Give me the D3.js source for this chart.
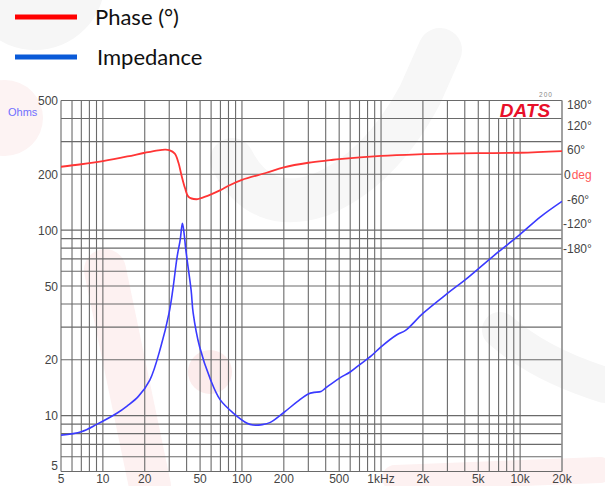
<!DOCTYPE html>
<html><head><meta charset="utf-8">
<script src="https://cdn.jsdelivr.net/npm/d3@7"></script>
<style>body{margin:0;background:#fff}svg{display:block}</style>
</head><body>
<script>
// ---- data ----
const impFreq = [5,7,9.1,12.6,15,18,21.8,26.1,29.9,31.8,34.2,36,37.3,38.3,39.5,43.1,44.6,49.6,59.5,69.6,87,109,120,140,160,200,250,300,330,370,400,500,600,700,850,1000,1300,1500,2000,3000,4000,5000,7000,10000,14000,20000];
const impOhms = [7.85,8.2,9.0,10.3,11.3,12.7,15.6,23.5,35.7,47.5,72,89,109,97,78,47.5,35.7,23.5,15.6,12.2,10.3,9.1,8.9,8.95,9.2,10.4,11.9,13.1,13.35,13.5,14.1,15.9,17.2,18.8,21,23.5,27.3,28.8,35.6,45.6,53.8,61.9,76.5,95,118,143];
const phaseFreq = [5,7,10,15,20,25,28,30,32.9,35,36.7,39,41.2,47,50,60,70,81.5,100,150,200,300,430,500,1000,2000,3000,5000,10000,20000];
const phaseDeg = [19,25,32.8,44,53,59,60.5,59.5,51,28,-1,-33.5,-54,-60,-58,-48,-38,-26,-13,4.4,17.5,28.7,35,37.6,45.5,49.5,51,52,53,57];
const xTickVals = [5,10,20,50,100,200,500,1000,2000,5000,10000,20000];
const xTickLabels = ["5","10","20","50","100","200","500","1kHz","2k","5k","10k","20k"];
const xGrid = [5,6,7,8,9,10,20,30,40,50,60,70,80,90,100,200,300,400,500,600,700,800,900,1000,2000,3000,4000,5000,6000,7000,8000,9000,10000,20000];
const yTickVals = [5,10,20,50,100,200,500];
const yGrid = [5,6,7,8,9,10,20,30,40,50,60,70,80,90,100,200,300,400,500];
const phaseTicks = [180,120,60,0,-60,-120,-180];
const legendNames = ["Phase (°)","Impedance"];

const W=605,H=486;
const L=61,R=562,T=100.5,B=471.5;
const svg=d3.select("body").append("svg").attr("width",W).attr("height",H);
svg.append("rect").attr("width",W).attr("height",H).attr("fill","#fff");

// faint watermark
const wm=svg.append("g");
wm.append("circle").attr("cx",35).attr("cy",-20).attr("r",70).attr("fill","#f6f6f6");
wm.append("circle").attr("cx",5).attr("cy",118).attr("r",38).attr("fill","#fdf3f3");
wm.append("path").attr("d","M105,270 L150,486").attr("stroke","#fdf1f1").attr("stroke-width",42).attr("stroke-linecap","round").attr("fill","none");
wm.append("circle").attr("cx",210).attr("cy",372).attr("r",22).attr("fill","#fcecec");
wm.append("path").attr("d","M232,160 Q260,215 320,195 Q380,170 420,95 L440,50").attr("stroke","#f7f7f7").attr("stroke-width",44).attr("stroke-linecap","round").attr("fill","none");
wm.append("path").attr("d","M500,330 Q540,365 605,385").attr("stroke","#f6f6f6").attr("stroke-width",36).attr("stroke-linecap","round").attr("fill","none");
wm.append("path").attr("d","M395,478 L600,470").attr("stroke","#fdf1f1").attr("stroke-width",26).attr("stroke-linecap","round").attr("fill","none");

const x=d3.scaleLog().domain([5,20000]).range([L,R]);
const y=d3.scaleLog().domain([5,500]).range([B,T]);
const yp=d3.scaleLinear().domain([-180,180]).range([248.6,T]);

// grid
const grid=svg.append("g").attr("stroke","#6a6a6a").attr("stroke-width",1.1);
xGrid.forEach(v=>grid.append("line").attr("x1",x(v)).attr("x2",x(v)).attr("y1",T).attr("y2",B));
yGrid.forEach(v=>grid.append("line").attr("x1",L).attr("x2",R).attr("y1",y(v)).attr("y2",y(v)));
svg.append("line").attr("x1",R).attr("x2",R).attr("y1",T).attr("y2",B).attr("stroke","#999").attr("stroke-width",1.2);

// DATS box
svg.append("rect").attr("x",497).attr("y",T+0.5).attr("width",56).attr("height",17).attr("fill","#fff");
svg.append("text").attr("x",525).attr("y",117).attr("text-anchor","middle").attr("font-family","Liberation Sans, Arial").attr("font-weight","bold").attr("font-style","italic").attr("font-size",19).attr("fill","#e8102a").text("DATS");
svg.append("text").attr("x",546).attr("y",97).attr("text-anchor","middle").attr("font-family","Liberation Sans, Arial").attr("font-size",6.5).attr("fill","#888").attr("letter-spacing",1).text("200");

// curves
svg.append("clipPath").attr("id","cp").append("rect").attr("x",L).attr("y",T).attr("width",R-L).attr("height",B-T);
const line=d3.line().curve(d3.curveCatmullRom.alpha(0.5));
svg.append("path").attr("clip-path","url(#cp)")
  .attr("d",line(phaseFreq.map((f,i)=>[x(f),yp(phaseDeg[i])])))
  .attr("fill","none").attr("stroke","#ff3535").attr("stroke-width",1.8);
svg.append("path").attr("clip-path","url(#cp)")
  .attr("d",line(impFreq.map((f,i)=>[x(f),y(impOhms[i])])))
  .attr("fill","none").attr("stroke","#3a3aff").attr("stroke-width",1.6);

// axes labels
const ax=svg.append("g").attr("font-family","Liberation Sans, Arial").attr("font-size",12).attr("fill","#444");
xTickVals.forEach((v,i)=>ax.append("text").attr("x",x(v)).attr("y",483).attr("text-anchor","middle").text(xTickLabels[i]));
yTickVals.forEach(v=>ax.append("text").attr("x",58).attr("y",y(v)+(v===5?-2:4.5)).attr("text-anchor","end").text(d3.format("d")(v)));
ax.append("text").attr("x",8).attr("y",116).attr("font-size",11).attr("fill","#6f6fff").text("Ohms");
phaseTicks.forEach(v=>{
  const yy=Math.max(yp(v),T+3.5)+4.5;
  if(v===0){
    const t=ax.append("text").attr("x",564).attr("y",yy);
    t.append("tspan").text("0");
    t.append("tspan").attr("fill","#ff5a5a").attr("dx",1).text("deg");
  } else {
    ax.append("text").attr("x",v<=-120?563:567).attr("y",yy).text((v<0?"-":"")+Math.abs(v)+"°");
  }
});

// legend
const lg=svg.append("g");
const lcol=["#ff0000","#0a5ad8"];
[17,57].forEach((yy,i)=>{
  lg.append("line").attr("x1",15).attr("x2",77).attr("y1",yy).attr("y2",yy).attr("stroke",lcol[i]).attr("stroke-width",5);
  lg.append("text").attr("x",i===0?95:97).attr("y",yy+7.5).attr("font-family","Lato, sans-serif").attr("font-size",22).attr("fill","#111").text(legendNames[i]);
});
</script>
</body></html>
